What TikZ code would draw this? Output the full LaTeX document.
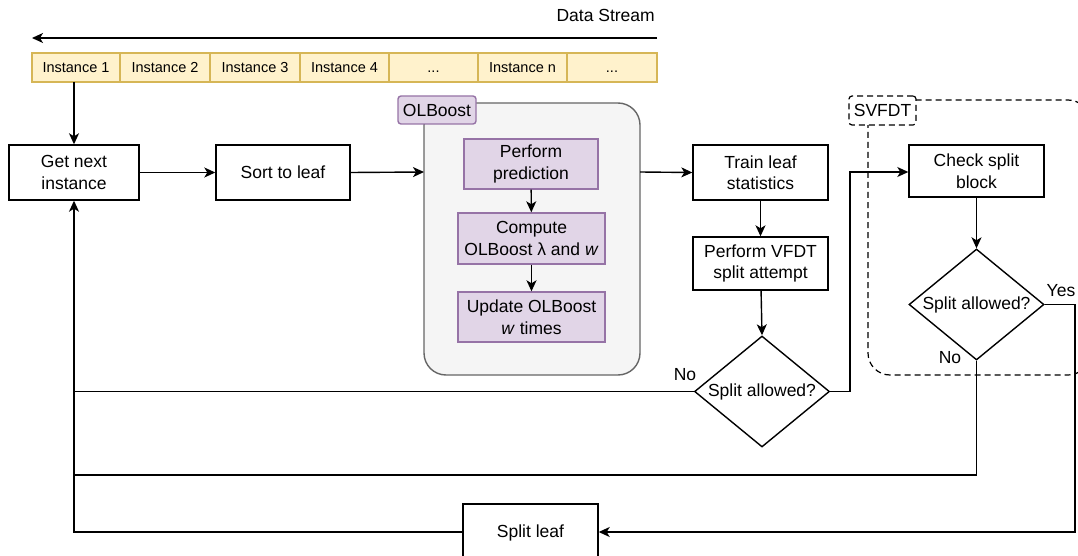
\documentclass[tikz,border=0pt]{standalone}
\usepackage{fontspec}
\setmainfont{Liberation Sans}
\usetikzlibrary{shapes.geometric,arrows.meta,calc}
\definecolor{instfill}{HTML}{FFF2CC}
\definecolor{instdraw}{HTML}{D6B656}
\definecolor{purfill}{HTML}{E1D5E7}
\definecolor{purdraw}{HTML}{9673A6}
\definecolor{contfill}{HTML}{F5F5F5}
\definecolor{contdraw}{HTML}{666666}
\newcommand\mydots{...}
\tikzset{
  x=1pt,y=-1pt,
  every node/.style={font=\fontsize{17.5}{21.5}\selectfont, inner sep=0pt},
  box/.style={draw, line width=1.4pt, fill=white, minimum width=#1, align=center},
  pbox/.style={draw=purdraw, fill=purfill, line width=1.4pt, align=center},
  inst/.style={draw=instdraw, fill=instfill, line width=1.4pt},
  dia/.style={draw, diamond, aspect=1.22, line width=1.4pt, fill=white, inner sep=0pt},
  conn/.style={line width=1.4pt, -{Stealth[length=11pt,width=10pt,inset=3pt]}},
  plain/.style={line width=1.4pt},
  dsh/.style={line width=1.2pt, dash pattern=on 6pt off 4pt},
  lbl/.style={font=\fontsize{17.5}{21.5}\selectfont}
}
\begin{document}
\begin{tikzpicture}
\useasboundingbox (0,0) rectangle (1078,556);
% data stream
\node[lbl, anchor=east] (ds) at (655,15) {Data Stream};
\coordinate (dsR) at (657,38);
\coordinate (dsL) at (32,38);
\draw[conn] (dsR) -- (dsL);
% instances
\foreach \a/\b/\t/\n in {32/120/Instance 1/i1,120/210/Instance 2/i2,210/300/Instance 3/i3,300/389/Instance 4/i4,389/478/\mydots/i5,478/567/Instance n/i6,567/657/\mydots/i7}{
  \path[inst] (\a,53) rectangle (\b,82);
  \node[font=\fontsize{14.5}{17}\selectfont, anchor=base] (\n) at ({(\a+\b)/2},73) {\t};
}
\coordinate (i1b) at (74,82);
% main boxes
\node[box=130pt, minimum height=55pt] (get) at (74,172.5) {Get next\\instance};
\node[box=134pt, minimum height=55pt] (sort) at (283,172.5) {Sort to leaf};
% OLBoost container
\draw[draw=contdraw, fill=contfill, line width=1.4pt, rounded corners=22pt] (424,103) rectangle (640,375);
\coordinate (olL) at (424,172);
\coordinate (olR) at (640,172);
\node[pbox, minimum width=78pt, minimum height=28pt, rounded corners=3pt] (olb) at (437,110) {OLBoost};
\node[pbox, minimum width=134pt, minimum height=50pt] (pp) at (531,164) {Perform\\prediction};
\node[pbox, minimum width=147pt, minimum height=51pt] (cp) at (531.5,238.5) {Compute\\OLBoost λ and \textit{w}};
\node[pbox, minimum width=147pt, minimum height=50pt] (up) at (531.5,317) {Update OLBoost\\\textit{w} times};
\draw[conn] (pp) -- (cp);
\draw[conn] (cp) -- (up);
% right column
\node[box=135pt, minimum height=55pt] (train) at (760.5,172.5) {Train leaf\\statistics};
\node[box=135pt, minimum height=53pt] (vfdt) at (760.5,263.5) {Perform VFDT\\split attempt};
\node[dia, minimum width=135pt, minimum height=111pt] (d1) at (762,391.5) {Split allowed?};
% SVFDT container
\draw[dsh, rounded corners=22pt] (868,100) rectangle (1090,375);
\node[draw, dsh, fill=white, minimum width=67pt, minimum height=29pt, rounded corners=3pt] (svb) at (882.5,110.5) {SVFDT};
\node[box=135pt, minimum height=52pt] (chk) at (976.5,171) {Check split\\block};
\node[dia, minimum width=135pt, minimum height=111pt] (d2) at (976.5,304.5) {Split allowed?};
% split leaf
\node[box=135pt, minimum height=58pt] (split) at (530.5,533) {Split leaf};
% connectors
\draw[conn] (i1b) -- (get.north);
\draw[conn] (get) -- (sort);
\draw[conn] (sort.east) -- (olL);
\draw[conn] (olR) -- (train.west);
\draw[conn] (train) -- (vfdt);
\draw[conn] (vfdt) -- (d1.north);
\draw[conn] (d1.east) -- (850,391.5) -- (850,172) -- (chk.west |- 0,172);
\draw[conn] (d1.west) -- (74,391.5) -- (get.south);
\draw[conn] (chk) -- (d2.north);
\draw[plain] (d2.south) -- (976.5,475) -- (74,475) -- (74,391.5);
\draw[conn] (d2.east) -- (1075,304.5) -- (1075,532) -- (split.east |- 0,532);
\draw[plain] (split.west |- 0,532) -- (74,532) -- (74,475);
% labels
\node[lbl] (no1) at (685,375) {No};
\node[lbl] (no2) at (950,358) {No};
\node[lbl] (yes) at (1061,291) {Yes};
\end{tikzpicture}
\end{document}
